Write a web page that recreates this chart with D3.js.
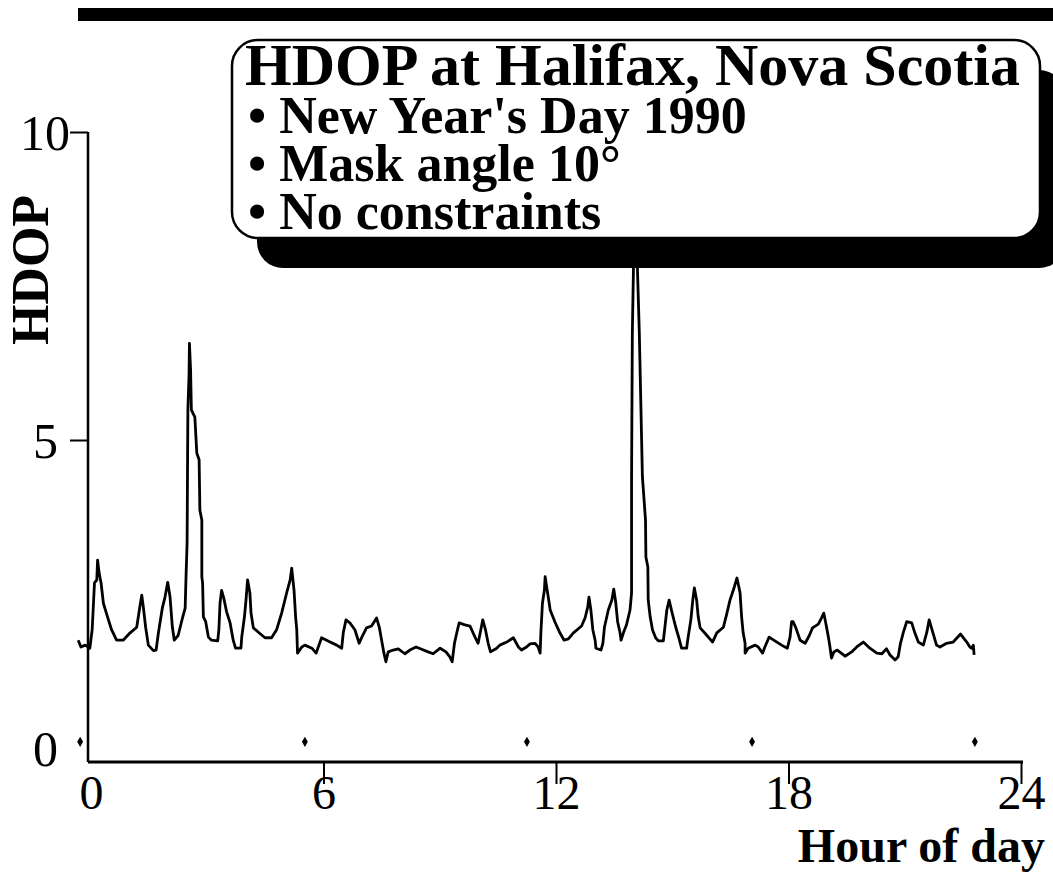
<!DOCTYPE html>
<html><head><meta charset="utf-8">
<script src="https://cdn.jsdelivr.net/npm/d3@7/dist/d3.min.js"></script>
<style>
body{margin:0;background:#fff;}
svg{display:block;font-family:"Liberation Serif","Times New Roman",serif;}
</style></head>
<body>
<svg id="chart" width="1053" height="878"></svg>
<script>
// ---- data ----
const hours = [
-0.33,-0.26,-0.15,-0.03,0.03,0.09,0.15,0.17,0.21,0.26,0.32,0.41,0.53,0.66,0.83,1.01,1.18,1.26,1.31,1.35,1.41,1.48,1.61,1.68,1.74,1.84,1.91,1.98,2.04,2.10,2.15,2.25,2.36,2.43,
2.45,2.48,2.50,2.53,2.54,2.57,2.59,2.68,2.73,2.79,2.81,2.86,2.86,2.88,2.90,2.96,3.03,3.11,3.27,3.30,3.33,3.37,3.42,3.50,3.59,3.67,3.73,3.87,3.89,3.96,4.00,4.04,4.10,4.13,4.19,4.32,4.49,4.66,4.79,4.92,5.05,5.14,5.18,5.24,5.28,5.31,5.33,5.44,5.52,
5.70,5.81,5.95,6.17,6.34,6.47,6.51,6.58,6.68,6.81,6.92,6.99,7.11,7.24,7.37,7.44,7.50,7.56,7.61,7.67,7.80,7.93,8.10,8.23,8.39,8.58,8.70,8.83,9.01,9.16,9.26,9.32,9.38,9.44,9.50,9.65,9.78,9.91,9.99,10.06,10.11,10.18,10.25,10.31,10.47,10.55,10.73,10.90,11.03,11.11,11.24,11.33,
11.46,11.54,11.59,11.61,11.65,11.70,11.72,11.76,11.80,11.85,11.97,12.10,12.21,12.32,12.45,12.66,12.75,12.82,12.85,12.90,12.95,13.01,13.03,13.16,13.21,13.25,13.35,13.44,13.49,13.54,13.59,13.65,13.68,13.74,13.82,13.91,13.95,
13.95,13.97,14.00,14.05,14.10,14.15,14.23,14.31,14.32,14.37,14.38,
14.43,14.49,14.57,14.64,14.77,14.81,14.86,14.92,14.99,15.09,15.17,15.24,15.37,15.41,15.48,15.53,15.57,15.63,15.67,15.72,15.89,16.04,16.15,16.32,16.40,16.49,16.60,16.67,16.75,16.79,16.83,16.88,16.88,16.96,17.14,
17.22,17.33,17.39,17.50,17.65,17.82,17.97,18.04,18.08,18.12,18.19,18.30,18.43,18.54,18.62,18.77,18.85,18.91,18.97,19.03,19.07,19.11,19.17,19.26,19.46,19.63,19.76,19.93,20.10,20.28,20.41,20.53,20.62,20.75,20.83,20.89,20.96,21.05,21.18,21.26,21.35,21.48,21.57,21.63,21.69,21.82,21.91,22.08,22.25,22.44,22.60,22.68,22.73,22.77,22.79
];
const hdop = [
1.75,1.64,1.67,1.62,1.92,2.68,2.73,3.05,2.84,2.68,2.35,2.16,1.92,1.75,1.75,1.87,1.96,2.29,2.48,2.29,1.96,1.67,1.58,1.59,1.87,2.27,2.45,2.69,2.45,1.96,1.75,1.83,2.11,2.27,
2.73,3.33,5.49,6.06,6.57,6.14,5.49,5.37,4.79,4.68,3.86,3.70,2.78,2.68,2.13,2.05,1.80,1.75,1.74,1.92,2.35,2.56,2.45,2.21,2.03,1.75,1.62,1.62,1.80,2.13,2.40,2.73,2.52,2.19,1.95,1.88,1.79,1.79,1.92,2.19,2.52,2.73,2.92,2.56,2.13,1.92,1.54,1.64,1.67,
1.62,1.54,1.79,1.72,1.67,1.62,1.87,2.08,2.03,1.92,1.70,1.80,1.95,1.98,2.11,1.96,1.75,1.54,1.40,1.56,1.59,1.61,1.53,1.59,1.64,1.59,1.56,1.53,1.62,1.56,1.48,1.40,1.70,1.87,2.03,2.00,1.98,1.80,1.70,1.92,2.08,1.92,1.70,1.56,1.62,1.67,1.72,1.79,1.64,1.59,1.64,1.69,
1.70,1.64,1.54,1.87,2.35,2.56,2.78,2.61,2.45,2.24,2.05,1.87,1.75,1.77,1.87,1.98,2.11,2.29,2.45,2.24,1.92,1.75,1.62,1.59,1.70,1.96,2.24,2.40,2.58,2.37,2.05,1.88,1.75,1.87,2.00,2.24,2.52,
4.35,6.74,7.81,8.33,7.81,6.74,4.40,3.70,3.10,2.94,2.40,
2.13,1.92,1.79,1.74,1.74,1.96,2.24,2.40,2.21,1.96,1.79,1.62,1.62,1.80,2.08,2.40,2.60,2.40,2.13,1.95,1.83,1.72,1.87,1.96,2.16,2.40,2.61,2.76,2.52,2.13,1.87,1.70,1.54,1.62,1.67,
1.64,1.54,1.64,1.80,1.74,1.67,1.62,1.80,2.05,2.05,1.95,1.75,1.70,1.83,1.95,2.01,2.11,2.19,2.00,1.80,1.64,1.46,1.56,1.59,1.49,1.56,1.64,1.72,1.62,1.54,1.53,1.61,1.51,1.43,1.48,1.70,1.87,2.05,2.03,1.87,1.72,1.67,1.88,2.08,1.95,1.67,1.64,1.70,1.72,1.85,1.72,1.64,1.62,1.67,1.51
];
const markerHours = [-0.28, 5.52, 11.25, 17.06, 22.81];
const markerValues = [0.1, 0.1, 0.1, 0.1, 0.1];
const xTicks = [0, 6, 12, 18, 24];
const yTicks = [0, 5, 10];
const titleText = "HDOP at Halifax, Nova Scotia";
const bulletLines = ["\u2022 New Year's Day 1990", "\u2022 Mask angle 10\u00B0", "\u2022 No constraints"];
const xLabel = "Hour of day";
const yLabel = "HDOP";

// ---- layout ----
const svg = d3.select("#chart");
const x = d3.scaleLinear().domain([0, 24]).range([91, 1021]);
const y = d3.scaleLinear().domain([0, 10]).range([748, 132]);
const axisX = 88, axisY = 762;
const serif = '"Liberation Serif","Times New Roman",serif';

// top rule
svg.append("rect").attr("x", 78).attr("y", 8).attr("width", 980).attr("height", 13).attr("fill", "#000");

// y axis
svg.append("line").attr("x1", axisX).attr("x2", axisX).attr("y1", y(10)).attr("y2", axisY)
  .attr("stroke", "#000").attr("stroke-width", 2.5);
const yAx = svg.append("g").attr("transform", `translate(${axisX},0)`)
  .call(d3.axisLeft(y).tickValues(yTicks).tickSize(18).tickFormat(d3.format("d")));
yAx.select(".domain").remove();
yAx.selectAll(".tick line").attr("stroke", "#000").attr("stroke-width", 2)
  .attr("display", d => d === 0 ? "none" : null);
yAx.selectAll(".tick text").attr("font-family", serif).attr("font-size", 50).attr("fill", "#000")
  .attr("dy", "0.34em").attr("x", d => d === 10 ? -18 : -30);

// x axis
svg.append("line").attr("x1", axisX).attr("x2", x(24) + 2).attr("y1", axisY).attr("y2", axisY)
  .attr("stroke", "#000").attr("stroke-width", 3);
const xAx = svg.append("g").attr("transform", `translate(0,${axisY})`)
  .call(d3.axisBottom(x).tickValues(xTicks).tickSize(22).tickFormat(d3.format("d")));
xAx.select(".domain").remove();
xAx.selectAll(".tick line").attr("stroke", "#000").attr("stroke-width", 2)
  .attr("display", d => d === 0 ? "none" : null);
xAx.selectAll(".tick text").attr("font-family", serif).attr("font-size", 48).attr("fill", "#000")
  .attr("y", 47).attr("dy", 0);

// axis titles
svg.append("text").attr("x", 1045).attr("y", 862).attr("text-anchor", "end")
  .attr("font-family", serif).attr("font-weight", "bold").attr("font-size", 48).text(xLabel);
svg.append("text").attr("transform", "translate(48,270) rotate(-90)").attr("text-anchor", "middle")
  .attr("font-family", serif).attr("font-weight", "bold").attr("font-size", 52).text(yLabel);

// data line
const pts = hours.map((h, i) => [h, hdop[i]]);
svg.append("path").datum(pts)
  .attr("d", d3.line().x(d => x(d[0])).y(d => y(d[1])))
  .attr("fill", "none").attr("stroke", "#000").attr("stroke-width", 2.8)
  .attr("stroke-linejoin", "round");

// markers
svg.selectAll(".mk").data(markerHours).enter().append("path")
  .attr("transform", (d, i) => `translate(${x(d)},${y(markerValues[i])})`)
  .attr("d", d3.symbol(d3.symbolDiamond, 30)).attr("fill", "#000");

// legend box with shadow
const bx = 232, by = 40, bw = 808, bh = 198, br = 26;
svg.append("rect").attr("x", bx + 25).attr("y", by + 30).attr("width", bw).attr("height", bh)
  .attr("rx", br).attr("fill", "#000");
svg.append("rect").attr("x", bx).attr("y", by).attr("width", bw).attr("height", bh)
  .attr("rx", br).attr("fill", "#fff").attr("stroke", "#000").attr("stroke-width", 2.5);
svg.append("text").attr("x", 245).attr("y", 85).attr("font-family", serif).attr("font-weight", "bold")
  .attr("font-size", 60).text(titleText);
svg.selectAll(".bl").data(bulletLines).enter().append("text")
  .attr("x", 248).attr("y", (d, i) => 133 + i * 48)
  .attr("font-family", serif).attr("font-weight", "bold").attr("font-size", 52).text(d => d);
</script>
</body></html>
